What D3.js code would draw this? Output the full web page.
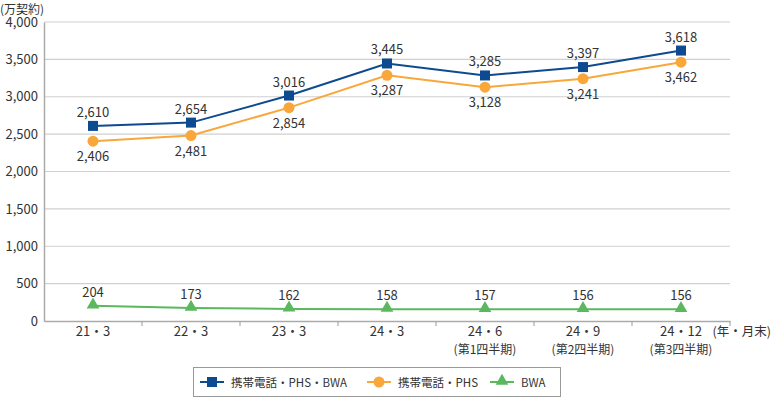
<!DOCTYPE html>
<html>
<head>
<meta charset="utf-8">
<script src="https://cdn.jsdelivr.net/npm/d3@7"></script>
<style>
  body { margin: 0; background: #fff; }
  text { font-family: "Noto Sans CJK JP", "Noto Sans", sans-serif; fill: #333; }
</style>
</head>
<body>
<div id="chart"></div>
<script>
// data
const categories = ["21・3", "22・3", "23・3", "24・3", "24・6", "24・9", "24・12"];
const subLabels = ["", "", "", "", "(第1四半期)", "(第2四半期)", "(第3四半期)"];
const seriesNames = ["携帯電話・PHS・BWA", "携帯電話・PHS", "BWA"];
const totalValues = [2610, 2654, 3016, 3445, 3285, 3397, 3618];
const phsValues = [2406, 2481, 2854, 3287, 3128, 3241, 3462];
const bwaValues = [204, 173, 162, 158, 157, 156, 156];
const yTicks = [0, 500, 1000, 1500, 2000, 2500, 3000, 3500, 4000];

const colors = ["#0d4a8f", "#f9a73a", "#5cb85f"];

const width = 772, height = 398;
const margin = { top: 22, right: 42, bottom: 77, left: 44 };

const svg = d3.select("#chart")
  .append("svg")
  .attr("width", width)
  .attr("height", height);

const x = d3.scaleBand()
  .domain(categories)
  .range([margin.left, width - margin.right])
  .padding(0);

const y = d3.scaleLinear()
  .domain([0, 4000])
  .range([height - margin.bottom, margin.top]);

// gridlines
svg.append("g")
  .selectAll("line")
  .data(yTicks.filter(d => d > 0))
  .join("line")
  .attr("x1", margin.left)
  .attr("x2", width - margin.right)
  .attr("y1", d => y(d))
  .attr("y2", d => y(d))
  .attr("stroke", "#d0d0d0")
  .attr("stroke-width", 1.2);

// y axis
const yAxis = svg.append("g")
  .attr("transform", `translate(${margin.left},0)`)
  .call(d3.axisLeft(y).tickValues(yTicks).tickSize(0).tickPadding(6).tickFormat(d3.format(",")));
yAxis.select(".domain").attr("stroke", "#aaa").attr("stroke-width", 1.5);
yAxis.selectAll("text").style("font-size", "13px").attr("fill", "#333");

// x axis
const xAxis = svg.append("g")
  .attr("transform", `translate(0,${y(0)})`)
  .call(d3.axisBottom(x).tickSize(0).tickFormat(""));
xAxis.select(".domain").attr("stroke", "#aaa").attr("stroke-width", 1.5);

// tick marks at band boundaries
svg.append("g")
  .selectAll("line")
  .data(categories)
  .join("line")
  .attr("x1", d => x(d) + x.bandwidth())
  .attr("x2", d => x(d) + x.bandwidth())
  .attr("y1", y(0))
  .attr("y2", y(0) + 5)
  .attr("stroke", "#aaa")
  .attr("stroke-width", 1.2);

// category labels
svg.append("g")
  .selectAll("text")
  .data(categories)
  .join("text")
  .attr("x", d => x(d) + x.bandwidth() / 2)
  .attr("y", y(0) + 15)
  .attr("text-anchor", "middle")
  .style("font-size", "13px")
  .text(d => d);

svg.append("g")
  .selectAll("text")
  .data(subLabels)
  .join("text")
  .attr("x", (d, i) => x(categories[i]) + x.bandwidth() / 2)
  .attr("y", y(0) + 33)
  .attr("text-anchor", "middle")
  .style("font-size", "12px")
  .text(d => d);

// unit labels
svg.append("text")
  .attr("x", 0)
  .attr("y", 14)
  .style("font-size", "12px")
  .text("(万契約)");

svg.append("text")
  .attr("x", width - 1)
  .attr("y", y(0) + 15)
  .attr("text-anchor", "end")
  .style("font-size", "12.5px")
  .text("(年・月末)");

const line = d3.line()
  .x((d, i) => x(categories[i]) + x.bandwidth() / 2)
  .y(d => y(d));

const allSeries = [totalValues, phsValues, bwaValues];

allSeries.forEach((vals, k) => {
  svg.append("path")
    .datum(vals)
    .attr("fill", "none")
    .attr("stroke", colors[k])
    .attr("stroke-width", 2)
    .attr("d", line);
});

const cx = i => x(categories[i]) + x.bandwidth() / 2;

// markers
svg.append("g")
  .selectAll("rect")
  .data(totalValues)
  .join("rect")
  .attr("x", (d, i) => cx(i) - 5)
  .attr("y", d => y(d) - 5)
  .attr("width", 10)
  .attr("height", 10)
  .attr("fill", colors[0]);

svg.append("g")
  .selectAll("circle")
  .data(phsValues)
  .join("circle")
  .attr("cx", (d, i) => cx(i))
  .attr("cy", d => y(d))
  .attr("r", 5.5)
  .attr("fill", colors[1]);

const tri = d3.symbol().type(d3.symbolTriangle).size(70);
svg.append("g")
  .selectAll("path")
  .data(bwaValues)
  .join("path")
  .attr("transform", (d, i) => `translate(${cx(i)},${y(d) - 1})`)
  .attr("d", tri)
  .attr("fill", colors[2]);

// value labels
const fmt = d3.format(",");
svg.append("g")
  .selectAll("text")
  .data(totalValues)
  .join("text")
  .attr("x", (d, i) => cx(i))
  .attr("y", d => y(d) - 9)
  .attr("text-anchor", "middle")
  .style("font-size", "13px")
  .text(d => fmt(d));

svg.append("g")
  .selectAll("text")
  .data(phsValues)
  .join("text")
  .attr("x", (d, i) => cx(i))
  .attr("y", d => y(d) + 20)
  .attr("text-anchor", "middle")
  .style("font-size", "13px")
  .text(d => fmt(d));

svg.append("g")
  .selectAll("text")
  .data(bwaValues)
  .join("text")
  .attr("x", (d, i) => cx(i))
  .attr("y", d => y(d) - 9)
  .attr("text-anchor", "middle")
  .style("font-size", "13px")
  .text(d => d);

// legend
const legend = svg.append("g");
legend.append("rect")
  .attr("x", 193.5)
  .attr("y", 367.5)
  .attr("width", 367)
  .attr("height", 29)
  .attr("fill", "#fff")
  .attr("stroke", "#999")
  .attr("stroke-width", 1);

const legendX = [200, 367, 490];
seriesNames.forEach((name, k) => {
  const g = legend.append("g").attr("transform", `translate(${legendX[k]},382)`);
  g.append("line")
    .attr("x1", 0).attr("x2", 24)
    .attr("stroke", colors[k]).attr("stroke-width", 2);
  if (k === 0) {
    g.append("rect").attr("x", 7).attr("y", -5).attr("width", 10).attr("height", 10).attr("fill", colors[0]);
  } else if (k === 1) {
    g.append("circle").attr("cx", 12).attr("r", 5.5).attr("fill", colors[1]);
  } else {
    g.append("path").attr("transform", "translate(12,-1)").attr("d", tri).attr("fill", colors[2]);
  }
  g.append("text")
    .attr("x", 31)
    .attr("y", 4.5)
    .style("font-size", "11.5px")
    .text(name);
});
</script>
</body>
</html>
